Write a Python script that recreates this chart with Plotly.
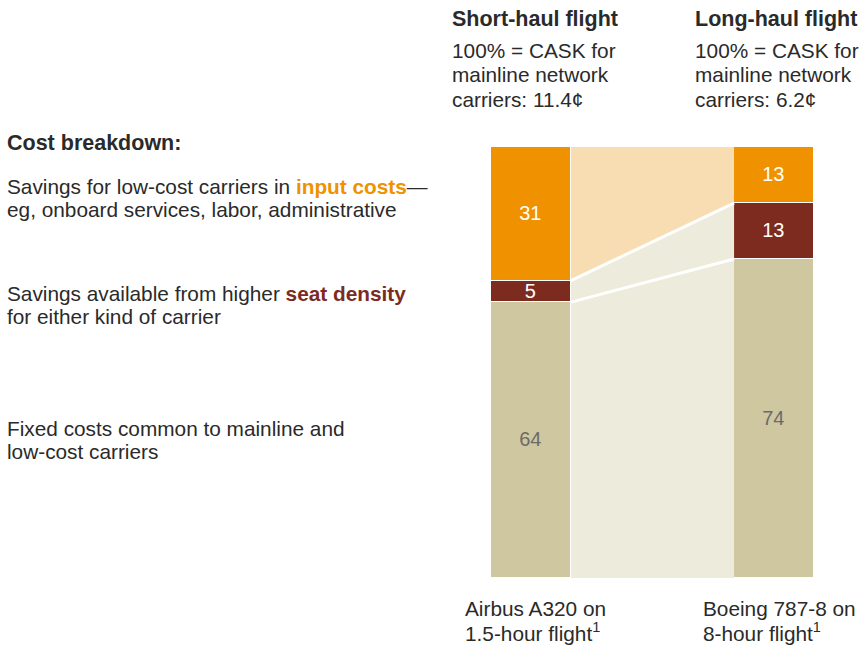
import plotly.graph_objects as go

# Cost breakdown per aircraft, % of mainline CASK
aircraft = ["Airbus A320", "Boeing 787-8"]
fixed_costs = [64, 74]
seat_density = [5, 13]
input_costs = [31, 13]

C_INPUT = "#F09100"
C_SEAT = "#7D2B1F"
C_FIXED = "#CFC7A0"
C_INPUT_LIGHT = "#F8DDB3"
C_SEAT_LIGHT = "#EDEBDB"
C_FIXED_LIGHT = "#EDEBDB"
TEXT = "#2a2a2a"
FONT = "Liberation Sans, Arial, sans-serif"

W, H = 864, 647
L, R, T, B = 491, 50, 147, 69
PW, PH = W - L - R, H - T - B

xpos = [0, 1]
bar_w = 0.329
xr = [-bar_w / 2, 1 + bar_w / 2]

fig = go.Figure()

# connectors between the two bars
xl_edge = xpos[0] + bar_w / 2
xr_edge = xpos[1] - bar_w / 2
b1 = [fixed_costs[0], fixed_costs[1]]
b2 = [fixed_costs[0] + seat_density[0], fixed_costs[1] + seat_density[1]]
b3 = [b2[0] + input_costs[0], b2[1] + input_costs[1]]


def band(lo, hi, color):
    fig.add_trace(go.Scatter(
        x=[xl_edge, xr_edge, xr_edge, xl_edge, xl_edge],
        y=[lo[0], lo[1], hi[1], hi[0], lo[0]],
        fill="toself", fillcolor=color, mode="none",
        hoverinfo="skip", showlegend=False))


band([0, 0], b1, C_FIXED_LIGHT)
band(b1, b2, C_SEAT_LIGHT)
band(b2, b3, C_INPUT_LIGHT)

for lvl in (b1, b2):
    fig.add_trace(go.Scatter(
        x=[xl_edge, xr_edge], y=lvl, mode="lines",
        line=dict(color="white", width=3),
        hoverinfo="skip", showlegend=False))

# stacked bars
for vals, col, tcol in [(fixed_costs, C_FIXED, "#6b6b6b"),
                        (seat_density, C_SEAT, "white"),
                        (input_costs, C_INPUT, "white")]:
    fig.add_trace(go.Bar(
        x=xpos, y=vals, width=bar_w,
        marker=dict(color=col, line=dict(color="white", width=1.5)),
        text=[str(v) for v in vals], textposition="inside",
        insidetextanchor="middle", textangle=0, constraintext="none",
        textfont=dict(color=tcol, size=20, family=FONT),
        hoverinfo="skip", showlegend=False))


def px(xp):
    return (xp - L) / PW


def py(yp):
    return (H - B - yp) / PH


annotations = []


def note(x, y, text, size=20.8, color=TEXT):
    annotations.append(dict(
        x=px(x), y=py(y), xref="paper", yref="paper", text=text,
        showarrow=False, xanchor="left", yanchor="middle", align="left",
        xshift=-2, font=dict(size=size, color=color, family=FONT)))


# column headers
note(452, 19, "<b>Short-haul flight</b>", size=21.5)
note(452, 50, "100% = CASK for")
note(452, 75, "mainline network")
note(452, 99, "carriers: 11.4¢")
note(695, 19, "<b>Long-haul flight</b>", size=21.5)
note(695, 50, "100% = CASK for")
note(695, 75, "mainline network")
note(695, 99, "carriers: 6.2¢")

# legend text
note(7, 143, "<b>Cost breakdown:</b>", size=21.5)
note(7, 186, "Savings for low-cost carriers in "
     f"<b><span style='color:{C_INPUT}'>input costs</span></b>—")
note(7, 209, "eg, onboard services, labor, administrative")
note(7, 293, "Savings available from higher "
     f"<b><span style='color:{C_SEAT}'>seat density</span></b>")
note(7, 316, "for either kind of carrier")
note(7, 428, "Fixed costs common to mainline and")
note(7, 452, "low-cost carriers")

# bar captions
note(465, 608, "Airbus A320 on")
note(465, 632, "1.5-hour flight<sup>1</sup>")
note(703, 608, "Boeing 787-8 on")
note(703, 632, "8-hour flight<sup>1</sup>")

fig.update_layout(
    width=W, height=H, barmode="stack", bargap=0,
    margin=dict(l=L, r=R, t=T, b=B, pad=0),
    paper_bgcolor="white", plot_bgcolor="white",
    xaxis=dict(range=xr, visible=False, fixedrange=True),
    yaxis=dict(range=[0, 100], visible=False, fixedrange=True),
    annotations=annotations,
    font=dict(family=FONT, color=TEXT),
)

fig.write_html("out.html", config={"displayModeBar": False})
